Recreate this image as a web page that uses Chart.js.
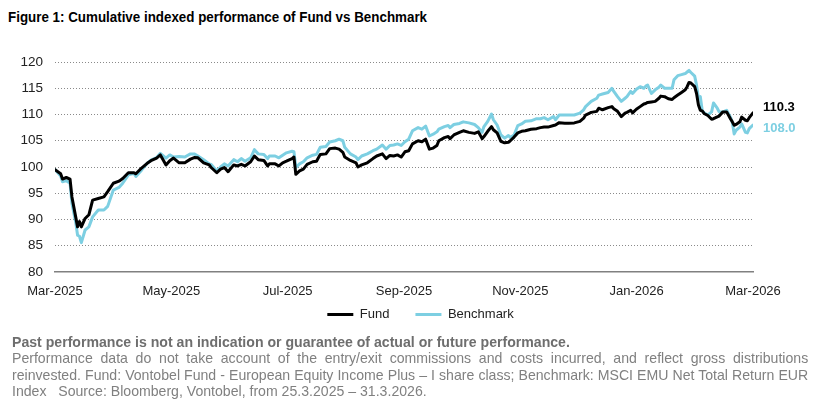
<!DOCTYPE html>
<html>
<head>
<meta charset="utf-8">
<script src="https://cdn.jsdelivr.net/npm/chart.js@4.4.1/dist/chart.umd.min.js"></script>
<style>
  body { margin: 0; background: #fff; width: 815px; height: 408px; overflow: hidden; position: relative; font-family: "Liberation Sans", Arial, sans-serif; }
  #title { position: absolute; left: 8px; top: 9px; font-weight: bold; font-size: 14px; color: #000; white-space: nowrap; transform: scaleX(0.955); transform-origin: left top; }
  #wrap { position: absolute; left: 0; top: 40px; width: 815px; height: 307px; }
  #notes { position: absolute; left: 12px; top: 334px; width: 847px; font-size: 15px; line-height: 16.3px; color: #808080; transform: scaleX(0.94); transform-origin: left top; }
  #notes .b { font-weight: bold; color: #6e6e6e; }
  #notes .j { text-align: justify; text-align-last: justify; }
</style>
</head>
<body>
<div id="title">Figure 1: Cumulative indexed performance of Fund vs Benchmark</div>
<div id="wrap"><canvas id="PERF_CHART"></canvas></div>
<div id="notes">
  <div class="b">Past performance is not an indication or guarantee of actual or future performance.</div>
  <div class="j">Performance data do not take account of the entry/exit commissions and costs incurred, and reflect gross distributions</div>
  <div class="j">reinvested. Fund: Vontobel Fund - European Equity Income Plus – I share class; Benchmark: MSCI EMU Net Total Return EUR</div>
  <div>Index &nbsp; Source: Bloomberg, Vontobel, from 25.3.2025 – 31.3.2026.</div>
</div>
<script>
// days since 25.3.2025 (last = 31.3.2026)
const totalDays = 371;
const tickLabels = ['Mar-2025', 'May-2025', 'Jul-2025', 'Sep-2025', 'Nov-2025', 'Jan-2026', 'Mar-2026'];
const seriesNames = ['Fund', 'Benchmark'];

const days = [
    0, 3, 4, 6, 8, 9, 11, 12, 13, 14, 16, 18, 20, 23, 26, 28, 31, 34, 36, 39, 42, 43, 46, 49, 51, 54, 56, 59, 61, 63, 66, 69, 72,
    74, 76, 79, 82, 83, 86, 88, 90, 92, 95, 97, 99, 101, 104, 106, 108, 111, 113, 114, 117, 119, 121, 123, 126, 127, 128, 130, 132, 134, 137, 139, 141, 144, 146, 149,
    151, 153, 154, 157, 160, 161, 163, 166, 169, 171, 174, 176, 178, 180, 182, 184, 186, 188, 190, 193, 195, 197, 199, 201, 203, 204, 207, 209, 210, 212, 215, 217, 220, 223, 225, 227,
    228, 230, 232, 233, 235, 237, 239, 241, 242, 244, 246, 248, 250, 253, 256, 258, 260, 262, 265, 266, 268, 271, 273, 276, 279, 281, 282, 285, 288, 289, 291, 294, 296, 297, 299, 301, 303, 304,
    306, 307, 309, 311, 313, 314, 315, 317, 319, 321, 322, 324, 326, 328, 329, 331, 333, 335, 336, 337, 338, 340, 341, 342, 343, 344, 345, 347, 349, 350, 352, 353, 355, 357, 359, 360, 361, 362, 364, 365, 367, 368, 369, 371
];

const fund = [
    99.5, 98.7, 97.7, 98.0, 97.7, 94.3, 90.5, 88.6, 89.6, 88.6, 90.2, 90.9, 93.7, 94.0, 94.3, 95.3, 96.9, 97.3, 97.8, 98.9, 98.9, 98.7, 99.8, 100.7, 101.2, 101.7, 102.3, 100.4, 101.2, 101.7, 100.8, 100.8, 101.5,
    101.8, 101.75, 100.8, 100.4, 99.9, 98.9, 99.6, 99.9, 99.1, 100.4, 100.2, 100.5, 100.2, 101.0, 102.1, 101.4, 101.25, 100.2, 100.6, 100.6, 100.2, 100.8, 101.1, 101.6, 101.9, 98.6, 99.25, 99.6, 100.5, 101.0, 101.1, 102.4, 102.5, 103.5, 103.6,
    103.4, 102.8, 101.9, 101.25, 100.8, 100.0, 100.4, 100.8, 101.6, 102.1, 102.5, 101.6, 102.2, 102.1, 102.3, 101.9, 102.9, 103.1, 104.4, 105.0, 104.8, 105.3, 103.4, 103.6, 104.1, 105.0, 105.6, 105.8, 105.4, 106.1, 106.6, 106.9, 106.6, 106.4, 106.7, 105.4,
    105.8, 106.8, 107.7, 107.1, 106.5, 104.9, 104.6, 104.7, 105.0, 105.7, 106.5, 106.8, 106.9, 107.2, 107.3, 107.5, 107.6, 107.6, 107.9, 108.0, 108.45, 108.35, 108.35, 108.4, 108.7, 109.3, 109.9, 110.4, 110.6, 111.2, 110.9, 111.3, 111.5, 111.1, 110.6, 109.6, 110.25, 110.4,
    110.8, 110.3, 111.0, 111.5, 112.0, 112.1, 112.3, 112.4, 112.5, 113.1, 113.5, 113.4, 113.0, 112.85, 113.2, 113.7, 114.2, 114.7, 115.3, 116.1, 116.0, 115.3, 114.0, 111.8, 110.8, 110.7, 110.2, 109.8, 109.1, 109.2, 109.55, 109.7, 110.5, 110.5, 109.2, 108.6, 107.95, 108.1, 108.6, 109.5, 108.9, 108.8, 109.4, 110.3
];

const benchmark = [
    99.5, 98.3, 97.2, 97.4, 96.9, 93.1, 89.5, 87.0, 86.8, 85.6, 88.0, 88.6, 90.5, 91.8, 91.8, 92.5, 95.6, 96.1, 96.9, 98.5, 98.8, 98.2, 99.4, 100.7, 101.3, 101.8, 102.6, 101.7, 102.3, 101.9, 102.0, 101.9, 102.5,
    102.5, 102.1, 101.4, 100.6, 100.5, 99.25, 100.0, 100.6, 100.2, 101.4, 101.0, 101.6, 101.1, 101.75, 103.3, 102.5, 102.4, 101.6, 102.1, 102.1, 101.75, 102.25, 102.7, 103.0, 102.9, 99.9, 100.6, 101.0, 101.75, 102.25, 102.4, 103.75, 103.9, 104.75, 105.0,
    105.3, 105.0, 103.75, 102.5, 101.9, 101.4, 102.1, 102.5, 103.1, 103.4, 104.2, 103.4, 104.1, 104.2, 104.4, 104.1, 104.8, 105.3, 106.9, 107.5, 107.2, 107.8, 105.9, 106.25, 106.7, 107.2, 107.7, 107.9, 107.5, 108.1, 108.3, 108.6, 108.4, 108.1, 107.5, 106.6,
    107.7, 108.7, 110.1, 109.0, 108.0, 106.1, 105.5, 106.0, 105.6, 106.1, 107.9, 108.2, 108.7, 108.8, 109.2, 109.2, 109.4, 109.0, 109.6, 109.0, 109.9, 109.9, 109.9, 109.9, 110.25, 110.9, 111.5, 112.5, 113.1, 113.7, 113.9, 114.2, 115.0, 114.4, 113.4, 112.5, 113.1, 113.4,
    114.4, 114.0, 114.8, 115.3, 115.0, 115.4, 115.6, 114.0, 114.7, 115.2, 115.6, 115.0, 115.0, 115.0, 116.6, 117.4, 117.6, 117.8, 118.1, 118.4, 118.0, 117.3, 115.6, 113.1, 113.4, 110.8, 110.3, 109.9, 110.5, 112.2, 111.2, 110.5, 110.5, 110.8, 109.5, 108.5, 106.3, 107.0, 107.6, 108.2, 106.6, 106.5, 107.3, 108.0
];

const fundColor = '#000000';
const benchColor = '#7dcfe2';

// value labels at the right end of each line
const endLabels = {
    id: 'endLabels',
    afterDatasetsDraw(chart) {
        const ctx = chart.ctx;
        const shift = [-6, 3];
        ctx.save();
        ctx.font = 'bold 13px "Liberation Sans", Arial, sans-serif';
        ctx.textBaseline = 'middle';
        ctx.textAlign = 'left';
        chart.data.datasets.forEach((ds, i) => {
            const last = ds.data[ds.data.length - 1].y;
            ctx.fillStyle = ds.borderColor;
            ctx.fillText(last.toFixed(1), chart.chartArea.right + 10, chart.scales.y.getPixelForValue(last) + shift[i]);
        });
        ctx.restore();
    }
};

// legend sits a bit right of the plot centre and close under the axis labels
const legendShift = {
    id: 'legendShift',
    afterLayout(chart) {
        const lg = chart.legend;
        lg.left += 44;
        lg.right += 44;
        lg.top -= 16;
        lg.bottom -= 16;
    }
};

const perfChart = new Chart(document.getElementById('PERF_CHART').getContext('2d'), {
    type: 'line',
    data: {
        datasets: [{
            label: seriesNames[0],
            data: days.map((d, i) => ({x: d, y: fund[i]})),
            borderColor: fundColor,
            backgroundColor: fundColor,
            borderWidth: 3
        }, {
            label: seriesNames[1],
            data: days.map((d, i) => ({x: d, y: benchmark[i]})),
            borderColor: benchColor,
            backgroundColor: benchColor,
            borderWidth: 3
        }]
    },
    options: {
        responsive: true,
        maintainAspectRatio: false,
        animation: false,
        elements: {
            point: { radius: 0 },
            line: { tension: 0, borderJoinStyle: 'round', borderCapStyle: 'round' }
        },
        layout: { padding: { left: 0, right: 62, top: 22, bottom: 0 } },
        scales: {
            x: {
                type: 'linear',
                min: 0,
                max: totalDays,
                afterBuildTicks: (scale) => {
                    scale.ticks = tickLabels.map((_, i) => ({ value: i * totalDays / (tickLabels.length - 1) }));
                },
                afterFit: (scale) => { scale.height = 26; },
                ticks: {
                    autoSkip: false,
                    maxRotation: 0,
                    padding: 4,
                    color: '#222',
                    font: { family: '"Liberation Sans", Arial, sans-serif', size: 13 },
                    callback: (v, i) => tickLabels[i]
                },
                grid: { display: false },
                border: { display: true, color: '#808080', width: 1.5 }
            },
            y: {
                min: 80,
                max: 120,
                afterFit: (scale) => { scale.width = 55; },
                ticks: {
                    stepSize: 5,
                    padding: 12,
                    color: '#222',
                    font: { family: '"Liberation Sans", Arial, sans-serif', size: 13.5 }
                },
                grid: {
                    drawTicks: false,
                    lineWidth: 1,
                    color: (c) => (c.tick && c.tick.value === 80) ? 'rgba(0,0,0,0)' : '#8a8a8a'
                },
                border: { display: false, dash: [1, 2] }
            }
        },
        plugins: {
            legend: {
                position: 'bottom',
                labels: {
                    usePointStyle: true,
                    pointStyle: 'line',
                    pointStyleWidth: 26,
                    padding: 26,
                    color: '#222',
                    font: { family: '"Liberation Sans", Arial, sans-serif', size: 13 }
                }
            },
            tooltip: { enabled: false }
        }
    },
    plugins: [endLabels, legendShift]
});
</script>
</body>
</html>
